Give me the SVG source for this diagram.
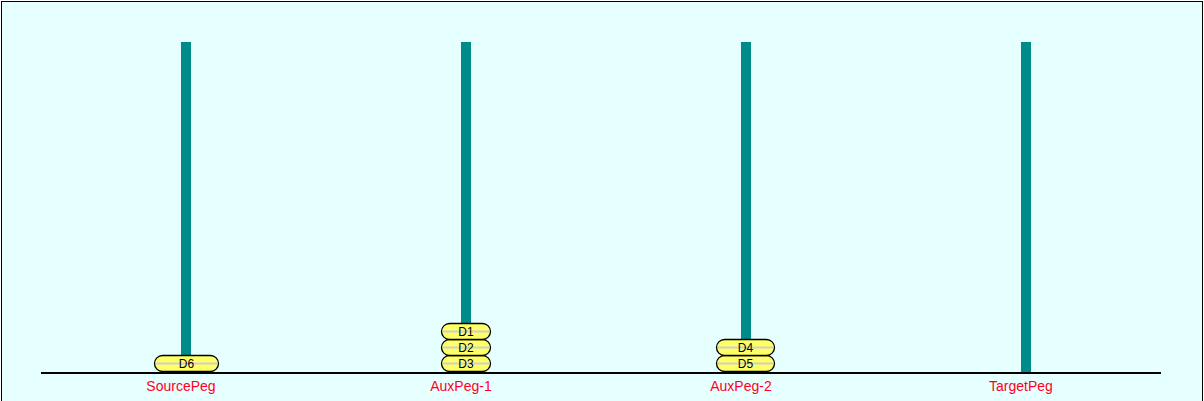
<svg xmlns="http://www.w3.org/2000/svg" width="1204" height="401" viewBox="0 0 1204 401">
<style>
.peg{fill:#008b8b}
.disk{fill:#ffff66;stroke:#000;stroke-width:1.3}
.mid{stroke:#d0d0d0;stroke-width:2}
.dl{font-family:"Liberation Sans",Arial,sans-serif;font-size:12px;fill:#000;text-anchor:middle}
.pl{font-family:"Liberation Sans",Arial,sans-serif;font-size:14px;fill:#ff0022;text-anchor:middle}
</style>
<rect x="1.5" y="1.5" width="1201" height="410" fill="#e6ffff" stroke="#000" stroke-width="1"/>
<g id="pegs">
<g id="SourcePeg"><rect class="peg" x="181" y="42" width="10" height="331"/><text class="pl" x="181" y="391">SourcePeg</text></g>
<g id="AuxPeg-1"><rect class="peg" x="461" y="42" width="10" height="331"/><text class="pl" x="461" y="391">AuxPeg-1</text></g>
<g id="AuxPeg-2"><rect class="peg" x="741" y="42" width="10" height="331"/><text class="pl" x="741" y="391">AuxPeg-2</text></g>
<g id="TargetPeg"><rect class="peg" x="1021" y="42" width="10" height="331"/><text class="pl" x="1021" y="391">TargetPeg</text></g>
</g>
<g id="base"><line x1="41" y1="373" x2="1161" y2="373" stroke="#000" stroke-width="2"/></g>
<g id="D6"><rect class="disk" x="154.5" y="355.5" width="64" height="16" rx="8"/><line class="mid" x1="156" y1="363.5" x2="217" y2="363.5"/><text class="dl" x="186.5" y="368">D6</text></g>
<g id="D3"><rect class="disk" x="441.5" y="355.5" width="49" height="16" rx="8"/><line class="mid" x1="443" y1="363.5" x2="489" y2="363.5"/><text class="dl" x="466" y="368">D3</text></g>
<g id="D2"><rect class="disk" x="441.5" y="339.5" width="49" height="16" rx="8"/><line class="mid" x1="443" y1="347.5" x2="489" y2="347.5"/><text class="dl" x="466" y="352">D2</text></g>
<g id="D1"><rect class="disk" x="441.5" y="323.5" width="49" height="16" rx="8"/><line class="mid" x1="443" y1="331.5" x2="489" y2="331.5"/><text class="dl" x="466" y="336">D1</text></g>
<g id="D5"><rect class="disk" x="716.5" y="355.5" width="58" height="16" rx="8"/><line class="mid" x1="718" y1="363.5" x2="773" y2="363.5"/><text class="dl" x="745.5" y="368">D5</text></g>
<g id="D4"><rect class="disk" x="716.5" y="339.5" width="58" height="16" rx="8"/><line class="mid" x1="718" y1="347.5" x2="773" y2="347.5"/><text class="dl" x="745.5" y="352">D4</text></g>
</svg>
